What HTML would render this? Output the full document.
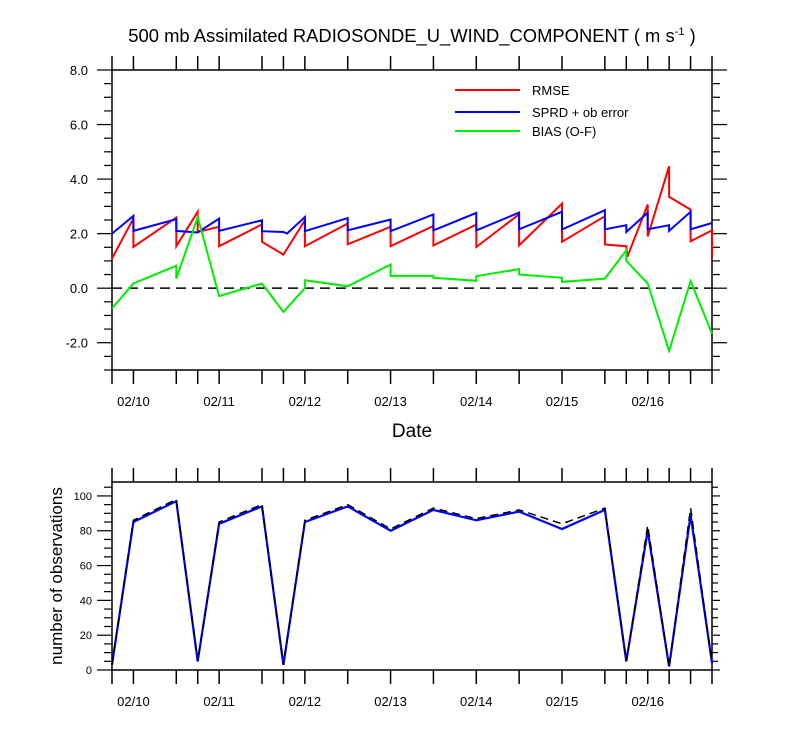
<!DOCTYPE html>
<html><head><meta charset="utf-8"><style>
body{margin:0;background:#fff;width:800px;height:750px;overflow:hidden}
svg{display:block;font-family:"Liberation Sans",Arial,sans-serif}
</style></head><body>
<svg id="c" width="800" height="750" viewBox="0 0 800 750"></svg>
<script>
// times in hours from 02/09 18Z
const rmseT=[0,6,6,18,18,24,24,30,30,42,42,48,54,54,66,66,78,78,90,90,102,102,114,114,126,126,138,138,144,144.3,150,150,156,156,162,162,168,168];
const rmseV=[1.09,2.55,1.51,2.59,1.54,2.80,2.06,2.25,1.54,2.34,1.70,1.23,2.49,1.54,2.37,1.61,2.25,1.54,2.28,1.57,2.33,1.51,2.71,1.57,3.10,1.70,2.64,1.60,1.54,1.15,3.07,1.90,4.47,3.35,2.88,1.72,2.12,1.15];
const sprdT=[0,6,6,18,18,24,30,30,42,42,48,49,54,54,66,66,78,78,90,90,102,102,114,114,126,126,138,138,144,144,150,150,156,156,162,162,168];
const sprdV=[2.0,2.65,2.10,2.53,2.10,2.04,2.55,2.10,2.49,2.09,2.06,2.0,2.61,2.09,2.57,2.12,2.52,2.09,2.70,2.12,2.76,2.12,2.77,2.16,2.80,2.15,2.86,2.16,2.31,2.06,2.77,2.16,2.31,2.10,2.80,2.16,2.39];
const biasT=[0,6,18,18,24,30,42,48,54,54,66,78,78,90,90,102,102,114,114,126,126,138,144,144,150,156,162,168];
const biasV=[-0.74,0.17,0.82,0.35,2.61,-0.29,0.17,-0.87,0.0,0.29,0.07,0.87,0.45,0.45,0.38,0.27,0.44,0.70,0.50,0.38,0.23,0.35,1.39,1.0,0.17,-2.30,0.26,-1.66];
const obsT=[0,6,18,24,30,42,48,54,66,78,90,102,114,126,138,144,150,156,162,168];
const obsUsed=[3,85,97,5,84,94,3,85,94,80,92,86,91,81,92,5,80,2,89,4];
const obsTotal=[3,86,98,5,85,95,3,86,95,81,93,87,92,84,93,5,83,2,93,4];
const dateLabels=["02/10","02/11","02/12","02/13","02/14","02/15","02/16"];
const yTopLabels=["8.0","6.0","4.0","2.0","0.0","-2.0"];
const yTopVals=[8,6,4,2,0,-2];
const yBotVals=[0,20,40,60,80,100];

const svg=document.getElementById('c');const NS='http://www.w3.org/2000/svg';
function el(t,a,p){const e=document.createElementNS(NS,t);for(const k in a)e.setAttribute(k,a[k]);(p||svg).appendChild(e);return e;}
const X0=112,X1=712;const xs=h=>X0+(X1-X0)*h/168;
const T0=70,T1=370;const yt=v=>T1-(T1-T0)*(v+3)/11;
const B0=482,B1=670;const yb=v=>B1-(B1-B0)*v/108;

function frame(top,bot,name){
 const r=el('rect',{x:X0,y:top,width:X1-X0,height:bot-top,fill:'none',stroke:'#000','stroke-width':1.5});
 
 obsT.forEach(h=>{el('line',{x1:xs(h),x2:xs(h),y1:bot,y2:bot+14,stroke:'#000','stroke-width':1.5});
  el('line',{x1:xs(h),x2:xs(h),y1:top,y2:top-14,stroke:'#000','stroke-width':1.5});});
 dateLabels.forEach((d,i)=>{const t=el('text',{x:xs(6+24*i),y:bot+36,'font-size':13,'text-anchor':'middle'});t.textContent=d;
  });
}
function line(T,V,ys,col,name,dash,w){
 const d=T.map((t,i)=>(i?'L':'M')+xs(t).toFixed(1)+','+ys(V[i]).toFixed(1)).join('');
 const p=el('path',{d:d,fill:'none',stroke:col,'stroke-width':w||2,'stroke-linejoin':'miter'});
 if(dash)p.setAttribute('stroke-dasharray',dash);
 
}
// title
const ti=el('text',{x:412,y:42,'font-size':18.4,'text-anchor':'middle'});
ti.innerHTML='500 mb Assimilated RADIOSONDE_U_WIND_COMPONENT ( m s<tspan dy="-7" font-size="11">-1</tspan><tspan dy="7"> )</tspan>';


// top plot
frame(T0,T1,'top-plot-frame');
for(let v=-3;v<=8.001;v+=0.5){const maj=Math.abs(v%2)<1e-6;const y=yt(v);
 el('line',{x1:X0-(maj?15:8),x2:X0,y1:y,y2:y,stroke:'#000','stroke-width':1.2});
 el('line',{x1:X1,x2:X1+(maj?15:8),y1:y,y2:y,stroke:'#000','stroke-width':1.2});}
yTopVals.forEach((v,i)=>{const t=el('text',{x:88,y:yt(v)+5,'font-size':13,'text-anchor':'end'});t.textContent=yTopLabels[i];
 });
const zl=el('line',{x1:X0,x2:X1,y1:yt(0),y2:yt(0),stroke:'#000','stroke-width':1.5,'stroke-dasharray':'10,6'});

line(rmseT,rmseV,yt,'#f00','rmse-line');
line(sprdT,sprdV,yt,'#00f','sprd-line');
line(biasT,biasV,yt,'#0e0','bias-line');
const xt=el('text',{x:412,y:437,'font-size':19,'text-anchor':'middle'});xt.textContent='Date';

// legend
[['RMSE','#f00',90],['SPRD + ob error','#00f',112],['BIAS (O-F)','#0e0',131]].forEach(l=>{
 const g=el('g',{});
 el('line',{x1:455,x2:520,y1:l[2],y2:l[2],stroke:l[1],'stroke-width':2},g);
 const t=el('text',{x:532,y:l[2]+5,'font-size':13},g);t.textContent=l[0];});

// bottom plot
frame(B0,B1,'bottom-plot-frame');
for(let v=0;v<=105;v+=5){const maj=v%20===0;const y=yb(v);
 el('line',{x1:X0-(maj?15:8),x2:X0,y1:y,y2:y,stroke:'#000','stroke-width':1.2});
 el('line',{x1:X1,x2:X1+(maj?8:6),y1:y,y2:y,stroke:'#000','stroke-width':1.2});}
yBotVals.forEach(v=>{const t=el('text',{x:92,y:yb(v)+4,'font-size':11,'text-anchor':'end'});t.textContent=v;
 });
const yl=el('text',{x:0,y:0,'font-size':17,'text-anchor':'middle',transform:'translate(62,576) rotate(-90)'});yl.textContent='number of observations';

line(obsT,obsUsed,yb,'#00f','obs-used-line',null,2.2);
line(obsT,obsTotal,yb,'#000','obs-total-line','8,5',1.5);
</script>
</body></html>
